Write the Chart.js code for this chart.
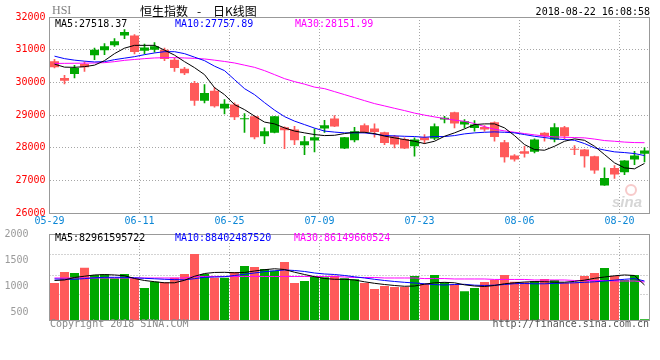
<!DOCTYPE html>
<html>
<head>
<meta charset="utf-8">
<script src="https://cdn.jsdelivr.net/npm/chart.js@4.4.0/dist/chart.umd.min.js"></script>
<style>
  body { margin: 0; background: #fff; }
  #wrap { position: relative; width: 660px; height: 360px; }
  #kline { position: absolute; left: 0; top: 0; }
  #vol { position: absolute; left: 0; top: 227px; }
</style>
</head>
<body>
<div id="wrap">
  <canvas id="vol" width="660" height="113"></canvas>
  <canvas id="kline" width="660" height="229"></canvas>
</div>
<script>
// trading days shown (2018)
const dates = ['05-29','05-30','05-31','06-01','06-04','06-05','06-06','06-07','06-08','06-11',
  '06-12','06-13','06-14','06-15','06-19','06-20','06-21','06-22','06-25','06-26',
  '06-27','06-28','06-29','07-03','07-04','07-05','07-06','07-09','07-10','07-11',
  '07-12','07-13','07-16','07-17','07-18','07-19','07-20','07-23','07-24','07-25',
  '07-26','07-27','07-30','07-31','08-01','08-02','08-03','08-06','08-07','08-08',
  '08-09','08-10','08-13','08-14','08-15','08-16','08-17','08-20','08-21','08-22'];
const xTickLabels = ['05-29','06-11','06-25','07-09','07-23','08-06','08-20'];
const priceTicks = [26000, 27000, 28000, 29000, 30000, 31000, 32000];
const volTicks = [500, 1000, 1500, 2000];

const openP = [30642,30135,30257,30563,30826,30979,31132,31437,31437,30969,
  31000,31000,30694,30419,29982,29440,29746,29196,29318,28870,
  28960,28349,28453,28624,28554,28073,28217,28584,28890,27973,
  28227,28685,28584,28471,28349,28267,28043,28318,28278,28860,
  29083,28707,28605,28636,28777,28165,27759,27890,27872,28453,
  28248,28624,27950,27942,27737,26841,27381,27248,27636,27811];
const highP = [30703,30214,30520,30624,31052,31183,31336,31612,31460,31173,
  31220,31052,30746,30459,30031,29930,29847,29470,29370,29040,
  28970,28604,28960,28640,28655,28349,28575,28838,28982,28318,
  28624,28727,28727,28480,28380,28300,28300,28400,28727,28960,
  29090,28860,28829,28676,28790,28227,27789,28043,28270,28460,
  28737,28654,28064,27950,27745,27381,27453,27605,27890,27993];
const lowP = [30440,29951,30135,30337,30694,30847,31101,31336,30869,30869,
  30920,30664,30337,30236,29297,29370,29236,29034,28860,28470,
  28270,28125,28450,27973,28095,27789,27872,28470,28640,27973,
  28176,28453,28318,28095,27993,27973,27737,28125,28248,28760,
  28605,28605,28502,28502,28196,27554,27585,27707,27840,28196,
  28176,28278,27789,27400,27208,26841,27055,27177,27483,27566];
const closeP = [30459,30052,30440,30459,31000,31101,31254,31541,30930,31070,
  31101,30716,30440,30275,29440,29676,29266,29348,28930,28890,
  28318,28502,28960,28532,28227,28196,28318,28685,28645,28318,
  28502,28483,28483,28146,28095,27973,28248,28227,28654,28912,
  28737,28807,28707,28554,28330,27707,27636,27811,28248,28349,
  28624,28349,27940,27737,27300,27075,27177,27605,27759,27911];

const ma5 = [30557,30465,30459,30480,30526,30664,30878,31046,31132,31132,
  31132,30985,30832,30633,30450,30236,29838,29624,29318,29165,
  28967,28783,28728,28606,28508,28453,28401,28370,28379,28431,
  28471,28471,28431,28355,28300,28248,28196,28126,28196,28349,
  28453,28575,28707,28728,28728,28606,28370,28095,27942,27921,
  28043,28196,28269,28226,28043,27789,27535,27382,27352,27518];
const ma10 = [30801,30725,30679,30648,30624,30633,30694,30740,30786,30847,
  30899,30939,30939,30878,30771,30664,30495,30358,30083,29807,
  29624,29379,29150,28951,28813,28706,28599,28508,28477,28453,
  28453,28453,28416,28370,28361,28349,28340,28318,28340,28340,
  28370,28422,28453,28471,28483,28471,28453,28401,28349,28309,
  28269,28248,28226,28126,27994,27927,27872,27850,27820,27758];
const ma30 = [30578,30581,30584,30587,30593,30602,30633,30673,30700,30725,
  30746,30755,30755,30746,30734,30716,30679,30639,30593,30526,
  30459,30358,30236,30113,30021,29945,29853,29807,29716,29624,
  29532,29440,29349,29278,29205,29135,29058,28997,28942,28890,
  28844,28807,28737,28645,28563,28514,28471,28431,28392,28355,
  28330,28318,28309,28300,28263,28217,28196,28171,28156,28152];

const volume = [1060,1271,1252,1354,1214,1227,1150,1233,1150,964,
  1085,1073,1162,1233,1617,1233,1162,1162,1271,1386,
  1367,1329,1296,1463,1060,1098,1194,1169,1200,1150,
  1131,1060,945,1002,983,983,1194,1047,1214,1073,
  1035,901,964,1079,1118,1214,1085,1073,1098,1137,
  1118,1066,1073,1194,1252,1348,1194,1118,1214,363];
const volMa5 = [1108,1118,1166,1190,1214,1221,1214,1200,1146,1108,
  1085,1064,1064,1112,1189,1242,1262,1265,1256,1262,
  1290,1315,1333,1319,1267,1223,1181,1146,1131,1131,
  1118,1083,1054,1031,1012,997,1002,1037,1064,1073,
  1064,1025,1002,993,1012,1045,1064,1079,1085,1085,
  1075,1075,1091,1114,1150,1175,1198,1214,1204,1022];
const volMa10 = [1137,1133,1131,1144,1160,1169,1169,1169,1160,1150,
  1141,1131,1125,1121,1143,1169,1175,1181,1204,1227,
  1252,1277,1294,1310,1300,1281,1252,1233,1223,1204,
  1179,1156,1131,1108,1089,1073,1060,1045,1029,1022,
  1031,1035,1018,1012,1018,1031,1047,1050,1045,1045,
  1052,1058,1064,1073,1083,1098,1114,1131,1144,1098];
const volMa30 = [1156,1156,1156,1156,1156,1156,1156,1156,1156,1156,
  1156,1156,1156,1156,1185,1185,1185,1185,1185,1185,
  1185,1185,1185,1185,1185,1185,1185,1185,1185,1175,
  1166,1166,1166,1156,1156,1156,1156,1145,1145,1145,
  1137,1137,1137,1137,1128,1128,1128,1128,1118,1118,
  1118,1118,1108,1108,1108,1108,1098,1098,1098,1079];

const priceLegend = ['MA5:27518.37', 'MA10:27757.89', 'MA30:28151.99'];
const volLegend = ['MA5:82961595722', 'MA10:88402487520', 'MA30:86149660524'];

const UP = '#00a800', DOWN = '#ff5a5a';
const GRID = '#a6a6a6';
const MONO = 'DejaVu Sans Mono';
const legendColors = ['#000000', '#0000ff', '#ff00ff'];
const dir = closeP.map((c, i) => c >= openP[i] ? UP : DOWN);

Chart.defaults.font.family = MONO;
Chart.defaults.font.size = 10;

const xGridColor = c => (c.index !== undefined && xTickLabels.includes(dates[c.index])) ? GRID : 'rgba(0,0,0,0)';

function lineSet(data, color) {
  return { type: 'line', data: data, borderColor: color, borderWidth: 1, pointRadius: 0, tension: 0, order: 0 };
}

// frame, extra horizontal dotted lines (as fractions of the plot height) and free texts
function decor(texts, extra, hLines) {
  return {
    id: 'decor',
    beforeDatasetsDraw(chart) {
      const { ctx, chartArea: a } = chart;
      ctx.save();
      if (extra) extra(ctx, a);
      const l = Math.floor(a.left) + 0.5, t = Math.floor(a.top) + 0.5;
      const r = Math.floor(a.right) + 0.5, b = Math.floor(a.bottom) + 0.5;
      if (hLines) {
        ctx.strokeStyle = GRID;
        ctx.lineWidth = 1;
        ctx.setLineDash([1, 2]);
        hLines.forEach(f => {
          const y = Math.floor(a.top + f * a.height) + 0.5;
          ctx.beginPath(); ctx.moveTo(l, y); ctx.lineTo(r, y); ctx.stroke();
        });
        ctx.setLineDash([]);
      }
      ctx.strokeStyle = '#999';
      ctx.lineWidth = 1;
      ctx.strokeRect(l, t, r - l, b - t);
      ctx.restore();
    },
    afterDraw(chart) {
      const ctx = chart.ctx;
      ctx.save();
      ctx.textBaseline = 'middle';
      texts.forEach(t => {
        ctx.font = t.font || ('10px "' + MONO + '"');
        ctx.fillStyle = t.color;
        ctx.textAlign = t.align || 'left';
        ctx.fillText(t.text, t.x, t.y);
      });
      ctx.restore();
    }
  };
}

const topTexts = [
  { text: 'HSI', x: 52, y: 11, color: '#808080', font: '12px "Liberation Serif"' },
  { text: '恒生指数', x: 140, y: 11, color: '#000', font: '12px "Noto Sans CJK SC"' },
  { text: '-', x: 197, y: 11, color: '#000', font: '12px "Noto Sans CJK SC"' },
  { text: '日K线图', x: 213, y: 11, color: '#000', font: '12px "Noto Sans CJK SC"' },
  { text: '2018-08-22 16:08:58', x: 650, y: 12, color: '#000', align: 'right' },
  { text: priceLegend[0], x: 55, y: 24, color: legendColors[0] },
  { text: priceLegend[1], x: 175, y: 24, color: legendColors[1] },
  { text: priceLegend[2], x: 295, y: 24, color: legendColors[2] }
];

const volTexts = [
  { text: volLegend[0], x: 55, y: 11.5, color: legendColors[0] },
  { text: volLegend[1], x: 175, y: 11.5, color: legendColors[1] },
  { text: volLegend[2], x: 294, y: 11.5, color: legendColors[2] },
  { text: 'Copyright 2018 SINA.COM', x: 50, y: 97, color: '#8a8a8a' },
  { text: 'http://finance.sina.com.cn', x: 649, y: 97, color: '#555', align: 'right' }
];

function watermark(ctx, a) {
  ctx.fillStyle = 'rgba(180,180,180,0.55)';
  ctx.font = 'bold italic 15px "Liberation Sans"';
  ctx.textBaseline = 'alphabetic';
  ctx.fillText('sina', 612, 207);
  ctx.strokeStyle = 'rgba(240,150,150,0.5)';
  ctx.lineWidth = 2;
  ctx.beginPath();
  ctx.arc(631, 190, 5, 0, Math.PI * 2);
  ctx.stroke();
}

// fixed axis width, and no extra vertical padding from the tick labels
const fixAxis = s => { s.width = 49.5; s.paddingTop = 0; s.paddingBottom = 0; };
const plain = v => String(v);

new Chart(document.getElementById('kline'), {
  type: 'bar',
  data: {
    labels: dates,
    datasets: [
      lineSet(ma5, legendColors[0]),
      lineSet(ma10, legendColors[1]),
      lineSet(ma30, legendColors[2]),
      {
        data: openP.map((o, i) => [o, closeP[i]]),
        backgroundColor: dir,
        barPercentage: 0.9, categoryPercentage: 1,
        grouped: false, minBarLength: 1, order: 1
      },
      {
        data: lowP.map((l, i) => [l, highP[i]]),
        backgroundColor: dir,
        barThickness: 1,
        grouped: false, order: 2
      }
    ]
  },
  options: {
    responsive: false,
    animation: false,
    layout: { padding: { top: 17, right: 10.5, left: 0, bottom: 0 } },
    plugins: { legend: { display: false }, tooltip: { enabled: false } },
    scales: {
      x: {
        offset: true,
        grid: { offset: true, drawTicks: false, color: xGridColor },
        border: { display: false, dash: [1, 2] },
        ticks: {
          autoSkip: false, maxRotation: 0, padding: 2, labelOffset: -5,
          color: '#0a86d6',
          callback: (v, i) => xTickLabels.includes(dates[i]) ? dates[i] : ''
        }
      },
      y: {
        min: 26000, max: 32000,
        afterBuildTicks: s => { s.ticks = priceTicks.map(v => ({ value: v })); },
        afterFit: fixAxis,
        grid: { drawTicks: false, color: GRID },
        border: { display: false, dash: [1, 2] },
        ticks: { color: '#ff0000', padding: 4, callback: plain }
      }
    }
  },
  plugins: [decor(topTexts, watermark)]
});

new Chart(document.getElementById('vol'), {
  type: 'bar',
  data: {
    labels: dates,
    datasets: [
      lineSet(volMa5, legendColors[0]),
      lineSet(volMa10, legendColors[1]),
      lineSet(volMa30, legendColors[2]),
      {
        data: volume,
        backgroundColor: dir,
        barPercentage: 0.9, categoryPercentage: 1,
        minBarLength: 1, order: 1
      }
    ]
  },
  options: {
    responsive: false,
    animation: false,
    layout: { padding: { top: 7, right: 10.5, left: 0, bottom: 20 } },
    plugins: { legend: { display: false }, tooltip: { enabled: false } },
    scales: {
      x: {
        offset: true,
        grid: { offset: true, drawTicks: false, color: xGridColor },
        border: { display: false, dash: [1, 2] },
        ticks: { display: false }
      },
      y: {
        min: 350, max: 2000,
        afterBuildTicks: s => { s.ticks = volTicks.map(v => ({ value: v })); },
        afterFit: fixAxis,
        grid: { display: false, drawTicks: false },
        border: { display: false },
        ticks: { color: '#9a9a9a', padding: 21, callback: plain }
      }
    }
  },
  plugins: [decor(volTexts, null, [0.244, 0.477, 0.709])]
});
</script>
</body>
</html>
